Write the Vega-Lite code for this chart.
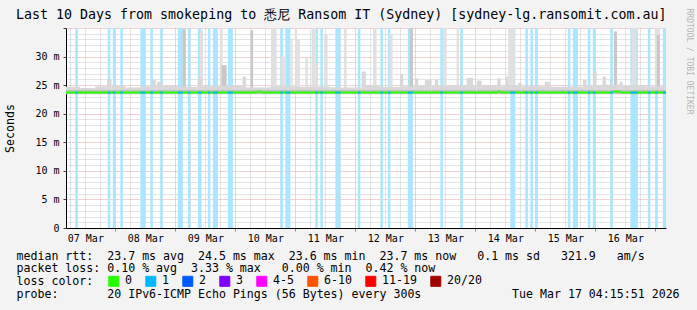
{
  "$schema": "https://vega.github.io/schema/vega-lite/v6.json",
  "width": 600,
  "height": 200,
  "autosize": {"type": "none"},
  "padding": {"left": 66, "top": 28, "right": 31, "bottom": 82},
  "background": "#f3f3f3",
  "config": {
    "view": {"fill": "#ffffff", "stroke": null},
    "font": "DejaVu Sans Mono"
  },
  "title": {
    "text": "Last 10 Days from smokeping to 悉尼 Ransom IT (Sydney) [sydney-lg.ransomit.com.au]",
    "anchor": "start",
    "frame": "group",
    "dx": -50,
    "dy": 20,
    "offset": 7,
    "font": "DejaVu Sans Mono",
    "fontSize": 13.3,
    "fontWeight": "normal",
    "color": "#000000"
  },
  "datasets": {
    "loss": [
      {"t0": 8, "t1": 9, "med": 23.7, "loss": "1"},
      {"t0": 21, "t1": 22, "med": 23.7, "loss": "1"},
      {"t0": 23, "t1": 24, "med": 23.7, "loss": "1"},
      {"t0": 26, "t1": 27, "med": 23.7, "loss": "1"},
      {"t0": 34, "t1": 36, "med": 23.7, "loss": "1"},
      {"t0": 38, "t1": 39, "med": 23.7, "loss": "1"},
      {"t0": 42, "t1": 43, "med": 23.7, "loss": "1"},
      {"t0": 49, "t1": 51, "med": 23.7, "loss": "1"},
      {"t0": 53, "t1": 54, "med": 23.7, "loss": "1"},
      {"t0": 57, "t1": 58.5, "med": 23.7, "loss": "1"},
      {"t0": 61, "t1": 62, "med": 23.7, "loss": "1"},
      {"t0": 63, "t1": 65, "med": 23.7, "loss": "1"},
      {"t0": 69, "t1": 71, "med": 23.7, "loss": "1"},
      {"t0": 90, "t1": 91, "med": 23.7, "loss": "1"},
      {"t0": 92, "t1": 94, "med": 23.7, "loss": "1"},
      {"t0": 104, "t1": 105, "med": 23.7, "loss": "1"},
      {"t0": 106, "t1": 107, "med": 23.7, "loss": "1"},
      {"t0": 112, "t1": 114, "med": 23.7, "loss": "1"},
      {"t0": 121, "t1": 122, "med": 23.7, "loss": "1"},
      {"t0": 130, "t1": 131, "med": 23.7, "loss": "1"},
      {"t0": 133, "t1": 134, "med": 23.7, "loss": "1"},
      {"t0": 141, "t1": 143, "med": 23.7, "loss": "1"},
      {"t0": 154, "t1": 155, "med": 23.7, "loss": "1"},
      {"t0": 162, "t1": 163, "med": 23.7, "loss": "1"},
      {"t0": 182, "t1": 184, "med": 23.7, "loss": "1"},
      {"t0": 188, "t1": 189, "med": 23.7, "loss": "1"},
      {"t0": 190, "t1": 191, "med": 23.7, "loss": "1"},
      {"t0": 192, "t1": 193, "med": 23.7, "loss": "1"},
      {"t0": 205, "t1": 206, "med": 23.7, "loss": "1"},
      {"t0": 207, "t1": 209, "med": 23.7, "loss": "1"},
      {"t0": 213, "t1": 214, "med": 23.7, "loss": "1"},
      {"t0": 215, "t1": 216, "med": 23.7, "loss": "1"},
      {"t0": 222, "t1": 223, "med": 23.7, "loss": "1"},
      {"t0": 230, "t1": 233, "med": 23.7, "loss": "1"},
      {"t0": 237, "t1": 238, "med": 23.7, "loss": "1"},
      {"t0": 240, "t1": 241, "med": 23.7, "loss": "1"},
      {"t0": 243, "t1": 244.26, "med": 23.7, "loss": "1"}
    ],
    "median": [
      {"t0": 4.26, "t1": 80.5, "med": 23.7, "loss": "0"},
      {"t0": 80.5, "t1": 82.5, "med": 23.85, "loss": "0"},
      {"t0": 82.5, "t1": 176.8, "med": 23.7, "loss": "0"},
      {"t0": 176.8, "t1": 178.2, "med": 23.85, "loss": "0"},
      {"t0": 178.2, "t1": 222.9, "med": 23.7, "loss": "0"},
      {"t0": 222.9, "t1": 226.2, "med": 23.85, "loss": "0"},
      {"t0": 226.2, "t1": 244.26, "med": 23.7, "loss": "0"}
    ],
    "smoke": [
      {"t0": 57.8, "t1": 59.1, "lo": 24.5, "hi": 34.6, "shade": "spike"},
      {"t0": 65.8, "t1": 66.9, "lo": 24.5, "hi": 35, "shade": "spike"},
      {"t0": 86.2, "t1": 88.5, "lo": 24.5, "hi": 35, "shade": "spike"},
      {"t0": 90.1, "t1": 91.8, "lo": 24.5, "hi": 30, "shade": "spike"},
      {"t0": 94.1, "t1": 94.9, "lo": 24.5, "hi": 33.2, "shade": "spike"},
      {"t0": 95.8, "t1": 96.7, "lo": 24.5, "hi": 35, "shade": "spike"},
      {"t0": 96.7, "t1": 97.8, "lo": 24.5, "hi": 33, "shade": "spike"},
      {"t0": 100, "t1": 101, "lo": 24.5, "hi": 29.7, "shade": "spike"},
      {"t0": 102.5, "t1": 103.8, "lo": 24.5, "hi": 35, "shade": "spike"},
      {"t0": 103.9, "t1": 104.9, "lo": 24.5, "hi": 28.8, "shade": "spike"},
      {"t0": 107.5, "t1": 108.9, "lo": 24.5, "hi": 33.8, "shade": "spike"},
      {"t0": 115.5, "t1": 116.5, "lo": 24.5, "hi": 35, "shade": "spike"},
      {"t0": 127.1, "t1": 128.5, "lo": 24.5, "hi": 35, "shade": "spike"},
      {"t0": 133.4, "t1": 134.9, "lo": 24.5, "hi": 34, "shade": "spike"},
      {"t0": 155.1, "t1": 156.5, "lo": 24.5, "hi": 35, "shade": "spike"},
      {"t0": 160.5, "t1": 161.4, "lo": 24.5, "hi": 35, "shade": "spike"},
      {"t0": 181.1, "t1": 183.8, "lo": 24.5, "hi": 35, "shade": "spike"},
      {"t0": 230.5, "t1": 232.5, "lo": 24.5, "hi": 35, "shade": "spike"},
      {"t0": 239.8, "t1": 241.8, "lo": 24.5, "hi": 35, "shade": "spike"},
      {"t0": 50.9, "t1": 52.2, "lo": 24.5, "hi": 34.8, "shade": "mid"},
      {"t0": 66.5, "t1": 68.5, "lo": 24.5, "hi": 28.5, "shade": "mid"},
      {"t0": 78.1, "t1": 79.1, "lo": 24.5, "hi": 34.6, "shade": "mid"},
      {"t0": 141.8, "t1": 143.1, "lo": 24.5, "hi": 35, "shade": "mid"},
      {"t0": 223.4, "t1": 224.7, "lo": 24.5, "hi": 34.4, "shade": "mid"},
      {"t0": 240.6, "t1": 241.8, "lo": 24.5, "hi": 33.8, "shade": "mid"},
      {"t0": 4.26, "t1": 10, "lo": 23.4, "hi": 24.7, "shade": "base"},
      {"t0": 10, "t1": 16, "lo": 23.4, "hi": 24.5, "shade": "base"},
      {"t0": 16, "t1": 20.7, "lo": 23.4, "hi": 24.8, "shade": "base"},
      {"t0": 20.7, "t1": 22.5, "lo": 23.4, "hi": 26.0, "shade": "base"},
      {"t0": 22.5, "t1": 28, "lo": 23.4, "hi": 24.9, "shade": "base"},
      {"t0": 28, "t1": 34, "lo": 23.4, "hi": 24.6, "shade": "base"},
      {"t0": 34, "t1": 38.9, "lo": 23.4, "hi": 24.8, "shade": "base"},
      {"t0": 38.9, "t1": 40.2, "lo": 23.4, "hi": 25.9, "shade": "base"},
      {"t0": 40.2, "t1": 40.7, "lo": 23.4, "hi": 25.0, "shade": "base"},
      {"t0": 40.7, "t1": 42.9, "lo": 23.4, "hi": 25.6, "shade": "base"},
      {"t0": 42.9, "t1": 50, "lo": 23.4, "hi": 24.9, "shade": "base"},
      {"t0": 50, "t1": 56.9, "lo": 23.4, "hi": 24.7, "shade": "base"},
      {"t0": 56.9, "t1": 58.5, "lo": 23.4, "hi": 26.2, "shade": "base"},
      {"t0": 58.5, "t1": 66, "lo": 23.4, "hi": 24.8, "shade": "base"},
      {"t0": 66, "t1": 74.9, "lo": 23.4, "hi": 24.9, "shade": "base"},
      {"t0": 74.9, "t1": 76.2, "lo": 23.4, "hi": 26.5, "shade": "base"},
      {"t0": 76.2, "t1": 86, "lo": 23.4, "hi": 24.6, "shade": "base"},
      {"t0": 86, "t1": 96, "lo": 23.4, "hi": 24.8, "shade": "base"},
      {"t0": 96, "t1": 110, "lo": 23.4, "hi": 24.7, "shade": "base"},
      {"t0": 110, "t1": 122.5, "lo": 23.4, "hi": 24.6, "shade": "base"},
      {"t0": 122.5, "t1": 124.2, "lo": 23.4, "hi": 27.4, "shade": "base"},
      {"t0": 124.2, "t1": 130, "lo": 23.4, "hi": 24.9, "shade": "base"},
      {"t0": 130, "t1": 137.8, "lo": 23.4, "hi": 24.7, "shade": "base"},
      {"t0": 137.8, "t1": 139.1, "lo": 23.4, "hi": 27.0, "shade": "base"},
      {"t0": 139.1, "t1": 143.8, "lo": 23.4, "hi": 24.8, "shade": "base"},
      {"t0": 143.8, "t1": 145.1, "lo": 23.4, "hi": 26.2, "shade": "base"},
      {"t0": 145.1, "t1": 147.8, "lo": 23.4, "hi": 25.0, "shade": "base"},
      {"t0": 147.8, "t1": 150.5, "lo": 23.4, "hi": 25.9, "shade": "base"},
      {"t0": 150.5, "t1": 151.8, "lo": 23.4, "hi": 25.0, "shade": "base"},
      {"t0": 151.8, "t1": 153.1, "lo": 23.4, "hi": 26.0, "shade": "base"},
      {"t0": 153.1, "t1": 164.5, "lo": 23.4, "hi": 24.9, "shade": "base"},
      {"t0": 164.5, "t1": 167.1, "lo": 23.4, "hi": 26.3, "shade": "base"},
      {"t0": 167.1, "t1": 168.5, "lo": 23.4, "hi": 25.0, "shade": "base"},
      {"t0": 168.5, "t1": 170.5, "lo": 23.4, "hi": 25.8, "shade": "base"},
      {"t0": 170.5, "t1": 176.7, "lo": 23.4, "hi": 24.9, "shade": "base"},
      {"t0": 176.7, "t1": 178.1, "lo": 23.4, "hi": 26.2, "shade": "base"},
      {"t0": 178.1, "t1": 180.2, "lo": 23.4, "hi": 24.8, "shade": "base"},
      {"t0": 180.2, "t1": 181.1, "lo": 23.4, "hi": 26.5, "shade": "base"},
      {"t0": 181.1, "t1": 185.1, "lo": 23.4, "hi": 25.0, "shade": "base"},
      {"t0": 185.1, "t1": 186.5, "lo": 23.4, "hi": 25.4, "shade": "base"},
      {"t0": 186.5, "t1": 195.8, "lo": 23.4, "hi": 24.8, "shade": "base"},
      {"t0": 195.8, "t1": 197.8, "lo": 23.4, "hi": 25.6, "shade": "base"},
      {"t0": 197.8, "t1": 211.1, "lo": 23.4, "hi": 24.7, "shade": "base"},
      {"t0": 211.1, "t1": 212.5, "lo": 23.4, "hi": 25.9, "shade": "base"},
      {"t0": 212.5, "t1": 215.1, "lo": 23.4, "hi": 24.9, "shade": "base"},
      {"t0": 215.1, "t1": 216.5, "lo": 23.4, "hi": 27.4, "shade": "base"},
      {"t0": 216.5, "t1": 218.9, "lo": 23.4, "hi": 25.0, "shade": "base"},
      {"t0": 218.9, "t1": 220.2, "lo": 23.4, "hi": 26.5, "shade": "base"},
      {"t0": 220.2, "t1": 225.8, "lo": 23.4, "hi": 25.1, "shade": "base"},
      {"t0": 225.8, "t1": 226.9, "lo": 23.4, "hi": 25.6, "shade": "base"},
      {"t0": 226.9, "t1": 236, "lo": 23.4, "hi": 25.0, "shade": "base"},
      {"t0": 236, "t1": 244.26, "lo": 23.4, "hi": 24.8, "shade": "base"},
      {"t0": 4.26, "t1": 244.26, "lo": 23.45, "hi": 24.15, "shade": "core"}
    ]
  },
  "resolve": {"axis": {"x": "independent", "y": "independent"}},
  "layer": [
    {
      "data": {"name": "loss"},
      "mark": {"type": "rect", "color": "#aae6fd"},
      "encoding": {
        "x": {
          "field": "t0", "type": "quantitative",
          "scale": {"domain": [4.26, 244.26], "nice": false, "zero": false},
          "axis": {
            "orient": "bottom",
            "values": [6,12,18,24,30,36,42,48,54,60,66,72,78,84,90,96,102,108,114,120,126,132,138,144,150,156,162,168,174,180,186,192,198,204,210,216,222,228,234,240],
            "labelExpr": "datum.value % 24 === 12 ? ((7 + floor(datum.value / 24)) < 10 ? '0' : '') + (7 + floor(datum.value / 24)) + ' Mar' : ''",
            "labelFont": "DejaVu Sans Mono", "labelFontSize": 10, "labelColor": "#000000",
            "labelPadding": 2, "labelOverlap": false, "labelFlush": false, "labelBound": false,
            "grid": true,
            "gridColor": {"condition": {"test": "datum.value % 24 === 0", "value": "#e8a3a3"}, "value": "#c8c8c8"},
            "gridDash": [1, 1],
            "tickSize": 3,
            "tickColor": "#e06060",
            "tickOpacity": {"condition": {"test": "datum.value % 24 === 0", "value": 1}, "value": 0},
            "domainColor": "#000000",
            "title": [
              "median rtt:\u00a0\u00a023.7 ms avg\u00a0\u00a024.5 ms max\u00a0\u00a023.6 ms min\u00a0\u00a023.7 ms now\u00a0\u00a0\u00a00.1 ms sd\u00a0\u00a0\u00a0321.9\u00a0\u00a0\u00a0am/s",
              "packet loss:\u00a00.10 % avg\u00a0\u00a03.33 % max\u00a0\u00a0\u00a00.00 % min\u00a0\u00a00.42 % now",
              "loss color:",
              "probe:\u00a0\u00a0\u00a0\u00a0\u00a0\u00a0\u00a020 IPv6-ICMP Echo Pings (56 Bytes) every 300s\u00a0\u00a0\u00a0\u00a0\u00a0\u00a0\u00a0\u00a0\u00a0\u00a0\u00a0\u00a0\u00a0Tue Mar 17 04:15:51 2026"
            ],
            "titleFont": "DejaVu Sans Mono", "titleFontSize": 11.6, "titleFontWeight": "normal", "titleColor": "#000000",
            "titleAnchor": "start", "titleAlign": "left", "titleBaseline": "alphabetic",
            "titleX": -50, "titleY": 31, "titleLineHeight": 12.7
          }
        },
        "x2": {"field": "t1"},
        "y": {
          "datum": 0, "type": "quantitative",
          "scale": {"domain": [0, 35], "nice": false, "zero": true},
          "axis": {
            "orient": "left",
            "values": [0,1,2,3,4,5,6,7,8,9,10,11,12,13,14,15,16,17,18,19,20,21,22,23,24,25,26,27,28,29,30,31,32,33,34,35],
            "labelExpr": "datum.value % 5 === 0 && datum.value < 35 ? (datum.value === 0 ? '0\u00a0\u00a0' : datum.value + '\u00a0m') : ''",
            "labelFont": "DejaVu Sans Mono", "labelFontSize": 10, "labelColor": "#000000",
            "labelPadding": 4, "labelOverlap": false, "labelBound": false, "labelFlush": false,
            "grid": true,
            "gridColor": {"condition": {"test": "datum.value % 5 === 0", "value": "#e8a3a3"}, "value": "#c8c8c8"},
            "gridDash": [1, 1],
            "tickSize": 3,
            "tickColor": "#404040",
            "tickOpacity": {"condition": {"test": "datum.value % 5 === 0", "value": 1}, "value": 0},
            "domainColor": "#000000",
            "title": "Seconds",
            "titleFont": "DejaVu Sans Mono", "titleFontSize": 11.6, "titleFontWeight": "normal", "titleColor": "#000000",
            "titleAngle": 270, "titleAlign": "center", "titleBaseline": "middle",
            "titleX": -56, "titleY": 100
          }
        },
        "y2": {"datum": 35}
      }
    },
    {
      "data": {"name": "smoke"},
      "mark": {"type": "rect"},
      "encoding": {
        "x": {"field": "t0", "type": "quantitative", "axis": null},
        "x2": {"field": "t1"},
        "y": {"field": "lo", "type": "quantitative", "axis": null},
        "y2": {"field": "hi"},
        "fill": {
          "field": "shade", "type": "nominal",
          "scale": {"domain": ["spike", "mid", "base", "core"], "range": ["#e0e0e0", "#c8c8c8", "#d8d8d8", "#c0c0c0"]},
          "legend": null
        }
      }
    },
    {
      "data": {"name": "median"},
      "mark": {"type": "rule", "strokeWidth": 2},
      "encoding": {
        "x": {"field": "t0", "type": "quantitative", "axis": null},
        "x2": {"field": "t1"},
        "y": {
          "field": "med", "type": "quantitative",
          "axis": {
            "orient": "right", "labels": false, "ticks": false, "domain": false, "grid": false,
            "title": "RRDTOOL / TOBI OETIKER",
            "titleFont": "DejaVu Sans Mono", "titleFontSize": 8, "titleFontWeight": "normal", "titleColor": "#b4b4b4",
            "titleAngle": 90, "titleAlign": "left", "titleBaseline": "middle",
            "titleX": 22, "titleY": -20
          }
        },
        "color": {
          "field": "loss", "type": "nominal",
          "scale": {
            "domain": ["0", "1", "2", "3", "4-5", "6-10", "11-19", "20/20"],
            "range": ["#26ff00", "#00b8ff", "#0059ff", "#7e00ff", "#ff00ff", "#ff5500", "#ff0000", "#a10000"]
          },
          "legend": {
            "orient": "none", "legendX": 42, "legendY": 247.5,
            "direction": "horizontal", "columns": 8, "gridAlign": "none", "columnPadding": 10,
            "title": null,
            "labelFont": "DejaVu Sans Mono", "labelFontSize": 11.6, "labelColor": "#000000", "labelOffset": 5.5,
            "symbolType": "square", "symbolSize": 100,
            "encode": {
              "symbols": {
                "update": {
                  "fill": {"scale": "color", "field": "value"},
                  "stroke": {"value": "#000000"},
                  "strokeWidth": {"value": 1},
                  "opacity": {"value": 1}
                }
              }
            }
          }
        }
      }
    },
    {
      "data": {"name": "loss"},
      "mark": {"type": "rule", "strokeWidth": 2},
      "encoding": {
        "x": {"field": "t0", "type": "quantitative", "axis": null},
        "x2": {"field": "t1"},
        "y": {"field": "med", "type": "quantitative", "axis": null},
        "color": {"field": "loss", "type": "nominal"}
      }
    },
    {
      "mark": {"type": "rule", "color": "#000000", "strokeWidth": 1},
      "encoding": {
        "x": {"datum": 2.6, "type": "quantitative", "axis": null},
        "x2": {"datum": 248.5},
        "y": {"datum": 0, "type": "quantitative", "axis": null}
      }
    },
    {
      "mark": {"type": "rule", "color": "#000000", "strokeWidth": 1},
      "encoding": {
        "x": {"datum": 4.26, "type": "quantitative", "axis": null},
        "y": {"datum": -0.7, "type": "quantitative", "axis": null},
        "y2": {"datum": 35.6}
      }
    },
    {
      "mark": {"type": "point", "shape": "triangle-right", "filled": true, "color": "#990000", "size": 36, "opacity": 1},
      "encoding": {
        "x": {"datum": 249.6, "type": "quantitative", "axis": null},
        "y": {"datum": 0, "type": "quantitative", "axis": null}
      }
    },
    {
      "mark": {"type": "point", "shape": "triangle-up", "filled": true, "color": "#990000", "size": 36, "opacity": 1},
      "encoding": {
        "x": {"datum": 4.26, "type": "quantitative", "axis": null},
        "y": {"datum": 36.4, "type": "quantitative", "axis": null}
      }
    }
  ]
}
